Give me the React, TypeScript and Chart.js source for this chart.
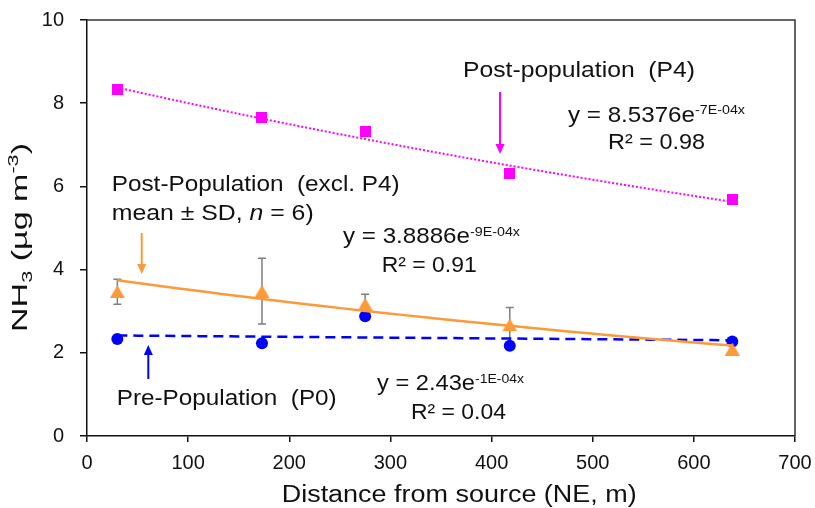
import { useEffect, useRef } from 'react';
import { Chart, registerables } from 'chart.js';

Chart.register(...registerables);

// Sampling distances along the NE transect (m)
const distance = [30, 173, 275, 418, 638];
// NH3 concentrations (µg m-3)
const postP4 = [8.32, 7.66, 7.32, 6.3, 5.68];
const postMean = [3.47, 3.48, 3.17, 2.67, 2.09];
const postSd = [0.3, 0.79, 0.24, 0.42, 0.08];
const preP0 = [2.33, 2.23, 2.88, 2.17, 2.27];

const xMin = 0;
const xMax = 700;
const xStep = 100;
const yMin = 0;
const yMax = 10;
const yStep = 2;

const FONT = '"Liberation Sans", Arial, Helvetica, sans-serif';
const INK = '#111111';
const PINK = '#FF00FF';
const ORANGE = '#FC9A3A';
const BLUE = '#0000FF';
const ERR = '#7F7F7F';

type Pt = { x: number; y: number };

const toPoints = (ys: number[]): Pt[] => distance.map((x, i) => ({ x, y: ys[i] }));

// Least-squares exponential trend y = a·e^(b·x), fitted on ln(y)
function expTrend(xs: number[], ys: number[], steps = 30): Pt[] {
  const ls = ys.map(Math.log);
  const n = xs.length;
  const mx = xs.reduce((s, v) => s + v, 0) / n;
  const ml = ls.reduce((s, v) => s + v, 0) / n;
  let sxy = 0;
  let sxx = 0;
  for (let i = 0; i < n; i++) {
    sxy += (xs[i] - mx) * (ls[i] - ml);
    sxx += (xs[i] - mx) * (xs[i] - mx);
  }
  const b = sxy / sxx;
  const a = Math.exp(ml - b * mx);
  const x0 = xs[0];
  const x1 = xs[n - 1];
  const out: Pt[] = [];
  for (let i = 0; i <= steps; i++) {
    const x = x0 + ((x1 - x0) * i) / steps;
    out.push({ x, y: a * Math.exp(b * x) });
  }
  return out;
}

function markerCanvas(w: number, h: number, color: string, shape: 'triangle' | 'square') {
  const c = document.createElement('canvas');
  c.width = w;
  c.height = h;
  const g = c.getContext('2d')!;
  g.fillStyle = color;
  if (shape === 'triangle') {
    g.beginPath();
    g.moveTo(w / 2, 0);
    g.lineTo(w, h);
    g.lineTo(0, h);
    g.closePath();
    g.fill();
  } else {
    g.fillRect(0, 0, w, h);
  }
  return c;
}

type Run = { t: string; size?: number; dy?: number; italic?: boolean };

function fontOf(r: Run, base: number) {
  return `${r.italic ? 'italic ' : ''}${r.size ?? base}px ${FONT}`;
}

// Draws a line of mixed-size text, stretched to a given advance width
function drawRich(
  ctx: CanvasRenderingContext2D,
  runs: Run[],
  x: number,
  y: number,
  width: number,
  base: number,
  rotate = 0,
  color = INK,
) {
  const widths = runs.map((r) => {
    ctx.font = fontOf(r, base);
    return ctx.measureText(r.t).width;
  });
  const natural = widths.reduce((s, v) => s + v, 0);
  ctx.save();
  ctx.translate(x, y);
  if (rotate) ctx.rotate(rotate);
  ctx.scale(width / natural, 1);
  ctx.fillStyle = color;
  ctx.textBaseline = 'alphabetic';
  ctx.textAlign = 'left';
  let cx = 0;
  runs.forEach((r, i) => {
    ctx.font = fontOf(r, base);
    ctx.fillText(r.t, cx, r.dy ?? 0);
    cx += widths[i];
  });
  ctx.restore();
}

function arrow(ctx: CanvasRenderingContext2D, x: number, y0: number, y1: number, color: string) {
  const dir = Math.sign(y1 - y0);
  const head = 10;
  const half = 4.5;
  ctx.save();
  ctx.strokeStyle = color;
  ctx.fillStyle = color;
  ctx.lineWidth = 2;
  ctx.beginPath();
  ctx.moveTo(x, y0);
  ctx.lineTo(x, y1 - dir * head);
  ctx.stroke();
  ctx.beginPath();
  ctx.moveTo(x, y1);
  ctx.lineTo(x - half, y1 - dir * head);
  ctx.lineTo(x + half, y1 - dir * head);
  ctx.closePath();
  ctx.fill();
  ctx.restore();
}

const errorBars = {
  id: 'errorBars',
  beforeDatasetsDraw(chart: Chart) {
    const { ctx, scales } = chart;
    const xs = scales.x;
    const ys = scales.y;
    ctx.save();
    ctx.strokeStyle = ERR;
    ctx.lineWidth = 1.5;
    distance.forEach((d, i) => {
      const px = xs.getPixelForValue(d);
      const top = ys.getPixelForValue(postMean[i] + postSd[i]);
      const bot = ys.getPixelForValue(postMean[i] - postSd[i]);
      ctx.beginPath();
      ctx.moveTo(px, top);
      ctx.lineTo(px, bot);
      ctx.moveTo(px - 4, top);
      ctx.lineTo(px + 4, top);
      ctx.moveTo(px - 4, bot);
      ctx.lineTo(px + 4, bot);
      ctx.stroke();
    });
    ctx.restore();
  },
};

const annotations = {
  id: 'annotations',
  afterDraw(chart: Chart) {
    const { ctx, chartArea: a } = chart;
    // frame on top and right
    ctx.save();
    ctx.strokeStyle = '#333333';
    ctx.lineWidth = 1.5;
    ctx.beginPath();
    ctx.moveTo(a.left, a.top);
    ctx.lineTo(a.right, a.top);
    ctx.lineTo(a.right, a.bottom);
    ctx.stroke();
    ctx.restore();

    arrow(ctx, 500, 92, 154, PINK);
    arrow(ctx, 141.7, 233, 274, ORANGE);
    arrow(ctx, 148.3, 379, 345, BLUE);

    const sup = (t: string): Run => ({ t, size: 13, dy: -7.5 });

    drawRich(ctx, [{ t: 'Post-population  (P4)' }], 463, 77, 232, 22);
    drawRich(ctx, [{ t: 'y = 8.5376e' }, sup('-7E-04x')], 568, 121.5, 177, 22);
    drawRich(ctx, [{ t: 'R² = 0.98' }], 608, 148.5, 97, 22);

    drawRich(ctx, [{ t: 'Post-Population  (excl. P4)' }], 111.7, 191, 288, 22);
    drawRich(ctx, [{ t: 'mean ± SD, ' }, { t: 'n', italic: true }, { t: ' = 6)' }], 111.7, 220, 202, 22);
    drawRich(ctx, [{ t: 'y = 3.8886e' }, sup('-9E-04x')], 343, 243.3, 177, 22);
    drawRich(ctx, [{ t: 'R² = 0.91' }], 381.7, 271.7, 95, 22);

    drawRich(ctx, [{ t: 'Pre-Population  (P0)' }], 116.7, 405, 220, 22);
    drawRich(ctx, [{ t: 'y = 2.43e' }, sup('-1E-04x')], 377, 390, 147, 22);
    drawRich(ctx, [{ t: 'R² = 0.04' }], 411, 418.5, 95, 22);

    // axis titles
    drawRich(ctx, [{ t: 'Distance from source (NE, m)' }], 281.7, 502, 355, 23);
    drawRich(
      ctx,
      [
        { t: 'NH' },
        { t: '3', size: 14, dy: 5 },
        { t: ' (µg m' },
        { t: '-3', size: 14, dy: -9 },
        { t: ')' },
      ],
      27,
      332,
      189,
      22,
      -Math.PI / 2,
    );
  },
};

export default function App() {
  const ref = useRef<HTMLCanvasElement>(null);

  useEffect(() => {
    const canvas = ref.current;
    if (!canvas) return;
    const tri = markerCanvas(15, 13, ORANGE, 'triangle');
    const sq = markerCanvas(11, 11, PINK, 'square');

    const chart = new Chart(canvas, {
      type: 'scatter',
      data: {
        datasets: [
          {
            label: 'Post-Population (excl. P4)',
            data: toPoints(postMean),
            pointStyle: tri as any,
            pointRadius: 7,
            backgroundColor: ORANGE,
            borderColor: ORANGE,
            showLine: false,
          },
          {
            label: 'Post-Population trend',
            data: expTrend(distance, postMean),
            showLine: true,
            pointRadius: 0,
            borderColor: ORANGE,
            borderWidth: 2.5,
          },
          {
            label: 'Pre-Population (P0)',
            data: toPoints(preP0),
            pointStyle: 'circle',
            pointRadius: 6,
            backgroundColor: BLUE,
            borderColor: BLUE,
            borderWidth: 0,
            showLine: false,
          },
          {
            label: 'Pre-Population trend',
            data: expTrend(distance, preP0),
            showLine: true,
            pointRadius: 0,
            borderColor: BLUE,
            borderWidth: 2.5,
            borderDash: [10, 6],
          },
          {
            label: 'Post-population (P4)',
            data: toPoints(postP4),
            pointStyle: sq as any,
            pointRadius: 6,
            backgroundColor: PINK,
            borderColor: PINK,
            showLine: false,
          },
          {
            label: 'Post-population (P4) trend',
            data: expTrend(distance, postP4),
            showLine: true,
            pointRadius: 0,
            borderColor: PINK,
            borderWidth: 2,
            borderDash: [2, 2],
          },
        ],
      },
      options: {
        animation: false,
        responsive: false,
        devicePixelRatio: 1,
        layout: { padding: { top: 20, right: 20, left: 0, bottom: 0 } },
        plugins: { legend: { display: false }, tooltip: { enabled: false } },
        events: [],
        scales: {
          x: {
            type: 'linear',
            min: xMin,
            max: xMax,
            afterFit: (s: any) => {
              s.height = 72;
              s.paddingLeft = 0;
              s.paddingRight = 0;
            },
            ticks: {
              stepSize: xStep,
              color: INK,
              padding: 9,
              font: { family: FONT, size: 20 },
            },
            grid: {
              drawOnChartArea: false,
              drawTicks: true,
              tickLength: 6,
              color: '#111111',
              lineWidth: 1.5,
            },
            border: { display: true, color: '#111111', width: 1.5 },
          },
          y: {
            type: 'linear',
            min: yMin,
            max: yMax,
            afterFit: (s: any) => {
              s.width = 87;
              s.paddingTop = 0;
              s.paddingBottom = 0;
            },
            ticks: {
              stepSize: yStep,
              color: INK,
              padding: 16,
              font: { family: FONT, size: 20 },
            },
            grid: {
              drawOnChartArea: false,
              drawTicks: true,
              tickLength: 7,
              color: '#111111',
              lineWidth: 1.5,
            },
            border: { display: true, color: '#111111', width: 1.5 },
          },
        },
      },
      plugins: [errorBars, annotations],
    });
    return () => chart.destroy();
  }, []);

  return (
    <div style={{ position: 'fixed', left: 0, top: 0, width: 815, height: 508, background: '#ffffff' }}>
      <canvas ref={ref} width={815} height={508} style={{ display: 'block', width: 815, height: 508 }} />
    </div>
  );
}
